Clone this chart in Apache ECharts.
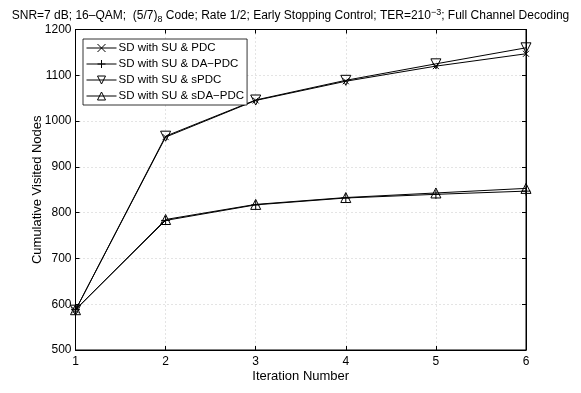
<!DOCTYPE html>
<html>
<head>
<meta charset="utf-8">
<script src="https://cdn.jsdelivr.net/npm/echarts@6/dist/echarts.min.js"></script>
<style>
  html, body { margin: 0; padding: 0; background: #fff; }
  #chart { width: 581px; height: 393px; }
</style>
</head>
<body>
<div id="chart"></div>
<script>
const iterations = [1, 2, 3, 4, 5, 6]
const yTicks = [500, 600, 700, 800, 900, 1000, 1100, 1200]

const pdc = [587, 965, 1045, 1087, 1120, 1147]
const daPdc = [588, 783, 817, 832, 840, 847]
const sPdc = [587, 967, 1046, 1089, 1125, 1160]
const sDaPdc = [588, 785, 818, 833, 843, 853]

const names = ['SD with SU & PDC', 'SD with SU & DA\u2212PDC', 'SD with SU & sPDC', 'SD with SU & sDA\u2212PDC']

const font = 'Liberation Sans, Arial, Helvetica, sans-serif'

const markers = {
  cross: 'path://M0,0L10,10M10,0L0,10',
  plus: 'path://M5,0L5,10M0,5L10,5',
  triDown: 'path://M0,0L10,0L5,9Z',
  triUp: 'path://M5,0L10,9L0,9Z'
}

function pairs(vals) {
  return iterations.map((x, i) => [x, vals[i]])
}

function makeSeries(name, vals, symbol, size) {
  return {
    name: name,
    type: 'line',
    data: pairs(vals),
    symbol: symbol,
    symbolSize: size,
    showAllSymbol: true,
    lineStyle: { color: '#000', width: 1 },
    itemStyle: { color: 'rgba(255,255,255,0)', borderColor: '#000', borderWidth: 1 },
    emphasis: { disabled: true },
    z: 3
  }
}

const chart = echarts.init(document.getElementById('chart'))

const option = {
  animation: false,
  backgroundColor: '#fff',
  textStyle: { fontFamily: font },
  title: {
    text: 'SNR=7 dB; 16\u2013QAM;  (5/7){sub|8} Code; Rate 1/2; Early Stopping Control; TER=210{sup|\u22123}; Full Channel Decoding',
    left: 'center',
    top: 3,
    textStyle: {
      fontFamily: font,
      fontSize: 12,
      fontWeight: 'normal',
      color: '#000',
      rich: {
        sub: { fontSize: 9, verticalAlign: 'bottom', padding: [7, 0, 0, 0], fontFamily: font },
        sup: { fontSize: 9, verticalAlign: 'top', padding: [0, 0, 7, 0], fontFamily: font }
      }
    }
  },
  legend: {
    data: names,
    orient: 'vertical',
    left: 83,
    top: 39,
    itemWidth: 30,
    itemHeight: 10,
    itemGap: 4,
    padding: [3, 3, 3, 3],
    borderColor: '#000',
    borderWidth: 0.8,
    backgroundColor: '#fff',
    itemStyle: { color: 'rgba(255,255,255,0)', borderColor: '#000', borderWidth: 1 },
    lineStyle: { color: '#000', width: 1 },
    textStyle: { fontFamily: font, fontSize: 11.5, color: '#000', padding: [0, 0, 0, -3] }
  },
  grid: {
    left: 75.5,
    right: 55,
    top: 29.5,
    bottom: 43,
    show: true,
    borderColor: '#000',
    borderWidth: 1
  },
  xAxis: [
    {
      type: 'value',
      min: 1,
      max: 6,
      interval: 1,
      name: 'Iteration Number',
      nameLocation: 'middle',
      nameGap: 20,
      nameMoveOverlap: false,
      nameTextStyle: { fontFamily: font, fontSize: 13, color: '#000' },
      axisLine: { lineStyle: { color: '#000' } },
      axisTick: { inside: true, length: 4, lineStyle: { color: '#000' } },
      axisLabel: { fontFamily: font, fontSize: 12, color: '#000', margin: 6 },
      splitLine: { show: true, lineStyle: { color: '#c8c8c8', type: [1, 3] } }
    },
    {
      type: 'value',
      position: 'top',
      min: 1,
      max: 6,
      interval: 1,
      axisLine: { lineStyle: { color: '#000' } },
      axisTick: { inside: true, length: 4, lineStyle: { color: '#000' } },
      axisLabel: { show: false },
      splitLine: { show: false }
    }
  ],
  yAxis: [
    {
      type: 'value',
      min: yTicks[0],
      max: yTicks[yTicks.length - 1],
      interval: 100,
      name: 'Cumulative Visited Nodes',
      nameLocation: 'middle',
      nameGap: 32,
      nameMoveOverlap: false,
      nameTextStyle: { fontFamily: font, fontSize: 13, color: '#000' },
      axisLine: { lineStyle: { color: '#000' } },
      axisTick: { inside: true, length: 4, lineStyle: { color: '#000' } },
      axisLabel: { fontFamily: font, fontSize: 12, color: '#000', margin: 4, formatter: v => String(v) },
      splitLine: { show: true, lineStyle: { color: '#c8c8c8', type: [1, 3] } }
    },
    {
      type: 'value',
      position: 'right',
      min: yTicks[0],
      max: yTicks[yTicks.length - 1],
      interval: 100,
      axisLine: { show: true, lineStyle: { color: '#000' } },
      axisTick: { show: true, inside: true, length: 4, lineStyle: { color: '#000' } },
      axisLabel: { show: false },
      splitLine: { show: false }
    }
  ],
  series: [
    makeSeries(names[0], pdc, markers.cross, 6),
    makeSeries(names[1], daPdc, markers.plus, 9),
    makeSeries(names[2], sPdc, markers.triDown, 10),
    makeSeries(names[3], sDaPdc, markers.triUp, 10)
  ]
}

chart.setOption(option)
</script>
</body>
</html>
